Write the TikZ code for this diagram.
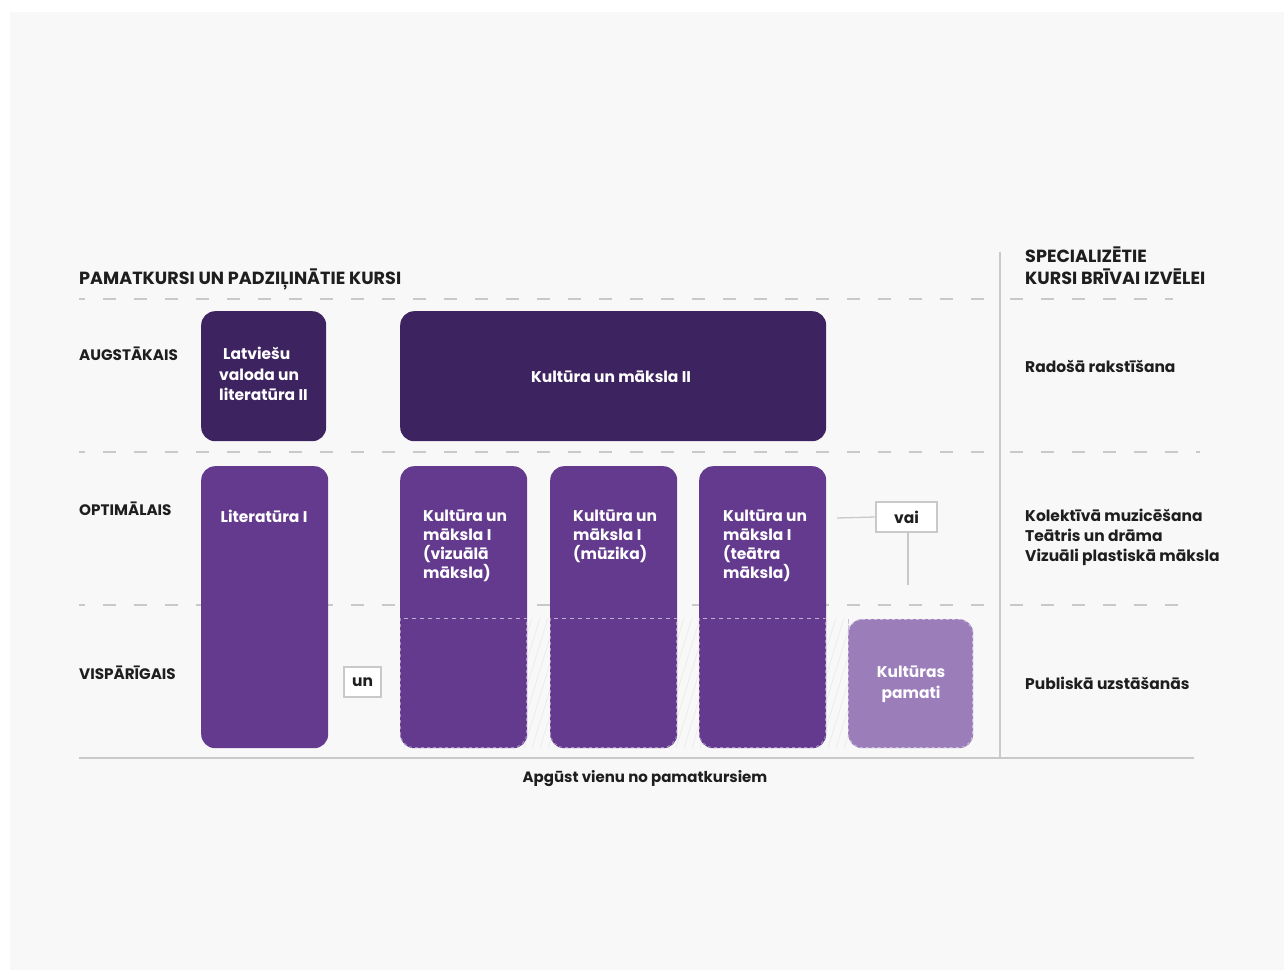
\documentclass[tikz,border=0pt]{standalone}
\usepackage{fontspec}
\setmainfont{Poppins}
\definecolor{bgc}{HTML}{F8F8F8}
\definecolor{dark}{HTML}{3D2360}
\definecolor{mid}{HTML}{633A8E}
\definecolor{light}{HTML}{9B7DBA}
\definecolor{rule}{HTML}{C9C9C9}
\definecolor{ink}{HTML}{1E1E1E}
\definecolor{hatch}{HTML}{ECECEC}
\definecolor{lowdash}{HTML}{A58BC4}
\begin{document}
\begin{tikzpicture}[x=1pt,y=-1pt,
  box/.style={rounded corners=14pt, inner sep=0pt, anchor=north west},
  boxtext/.style={text=white, font=\bfseries\fontsize{15.5}{18.8}\selectfont, inner sep=0pt},
  head/.style={text=ink, font=\bfseries\fontsize{17.6}{22}\selectfont, inner sep=0pt, anchor=base west, align=left},
  rowlab/.style={text=ink, font=\bfseries\fontsize{15.2}{18}\selectfont, inner sep=0pt, anchor=base west},
  side/.style={text=ink, font=\bfseries\fontsize{15.5}{20}\selectfont, inner sep=0pt, anchor=base west, align=left},
  dashrule/.style={draw=rule, line width=1.3pt, dash pattern=on 13pt off 18pt},
  tag/.style={draw=rule, line width=1.2pt, fill=white, inner sep=0pt, text=ink, font=\bfseries\fontsize{15.5}{18}\selectfont},
  conn/.style={draw=rule, line width=1.3pt}]
\useasboundingbox (0,0) rectangle (1284,973);
\fill[white] (0,0) rectangle (1284,973);
\fill[bgc] (10,12) rectangle (1284,970);

% headers
\node[head] (h1) at (79,285) {PAMATKURSI UN PADZIĻINĀTIE KURSI};
\node[head] (h2) at (1025,285) {SPECIALIZĒTIE\\KURSI BRĪVAI IZVĒLEI};

% dashed rules
\draw[dashrule, dash phase=7pt] (79,299) -- (997,299);
\draw[dashrule] (1010,299) -- (1173,299);
\draw[dashrule, dash phase=7pt] (79,452) -- (997,452);
\draw[dashrule] (1010,452) -- (1200,452);
\draw[dashrule, dash phase=7pt] (79,605) -- (997,605);
\draw[dashrule] (1010,605) -- (1193,605);

% vertical and bottom rule
\draw[conn, line width=1.6pt] (1000,252) -- (1000,758);
\draw[conn, line width=2pt] (79,758) -- (1194,758);
\node[text=ink, font=\bfseries\fontsize{15}{18}\selectfont, inner sep=0pt, anchor=base] (foot) at (645,782) {Apgūst vienu no pamatkursiem};

% row labels
\node[rowlab] (r1) at (79,360) {AUGSTĀKAIS};
\node[rowlab] (r2) at (79,515) {OPTIMĀLAIS};
\node[rowlab] (r3) at (79,679) {VISPĀRĪGAIS};

% hatching behind lower parts
\begin{scope}
\clip (400,618) rectangle (850,748);
\foreach \k in {0,...,70} {
  \draw[hatch, line width=0.8pt] (380+\k*8,748) -- (420+\k*8,618);
}
\end{scope}

% boxes
\node[box, fill=dark, minimum width=125pt, minimum height=130pt] (lv) at (201,311) {};
\node[box, fill=dark, minimum width=426pt, minimum height=130pt] (km2) at (400,311) {};
\node[box, fill=mid, minimum width=127pt, minimum height=282pt] (lit) at (201,466) {};
\node[box, fill=mid, minimum width=127pt, minimum height=282pt] (kv) at (400,466) {};
\node[box, fill=mid, minimum width=127pt, minimum height=282pt] (kmu) at (550,466) {};
\node[box, fill=mid, minimum width=127pt, minimum height=282pt] (kt) at (699,466) {};
\node[box, fill=light, minimum width=125pt, minimum height=129pt] (kp) at (848,619) {};
\draw[lowdash!60!white, line width=0.8pt, dash pattern=on 3pt off 3pt, rounded corners=14pt] (848.5,633) -- (848.5,619.5) -- (972.5,619.5) -- (972.5,747.5) -- (848.5,747.5) -- cycle;

% dashed lower outlines of tall boxes
\foreach \xa/\xb in {400/527,550/677,699/826} {
  \draw[white, opacity=0.6, line width=0.9pt, dash pattern=on 4pt off 4pt] (\xa+4,618) -- (\xb-1,618);
  \draw[lowdash, line width=0.8pt, dash pattern=on 3pt off 3pt, rounded corners=14pt] (\xa+0.5,618) -- (\xa+0.5,747.5) -- (\xb-0.5,747.5) -- (\xb-0.5,618);
}

% box texts
\node[boxtext, align=left, anchor=north west, font=\bfseries\fontsize{15.5}{20.5}\selectfont] (lvt) at (219,347) {\hspace{4pt}Latviešu\\valoda un\\literatūra II};
\node[boxtext] (km2t) at (611,377) {Kultūra un māksla II};
\node[boxtext, anchor=north] (litt) at (264,510) {Literatūra I};
\node[boxtext, align=left, anchor=north west] (kvt) at (423,510) {Kultūra un\\māksla I\\(vizuālā\\māksla)};
\node[boxtext, align=left, anchor=north west] (kmut) at (573,510) {Kultūra un\\māksla I\\(mūzika)};
\node[boxtext, align=left, anchor=north west] (ktt) at (723,510) {Kultūra un\\māksla I\\(teātra\\māksla)};
\node[boxtext, align=center, font=\bfseries\fontsize{15.5}{21}\selectfont] (kpt) at (911,684) {Kultūras\\pamati};

% tags
\node[tag, minimum width=37pt, minimum height=30pt] (un) at (362.5,682) {un};
\node[tag, minimum width=61pt, minimum height=30pt] (vai) at (906.5,517) {vai};
\coordinate (vaiL) at (837,518);
\coordinate (vaiB) at (908,585);
\draw[conn] (vaiL) -- (vai.west);
\draw[conn] (vai.south -| vaiB) -- (vaiB);

% side texts
\node[side] (s1) at (1025,372) {Radošā rakstīšana};
\node[side] (s2) at (1025,561) {Kolektīvā muzicēšana\\Teātris un drāma\\Vizuāli plastiskā māksla};
\node[side] (s3) at (1025,689) {Publiskā uzstāšanās};
\end{tikzpicture}
\end{document}
